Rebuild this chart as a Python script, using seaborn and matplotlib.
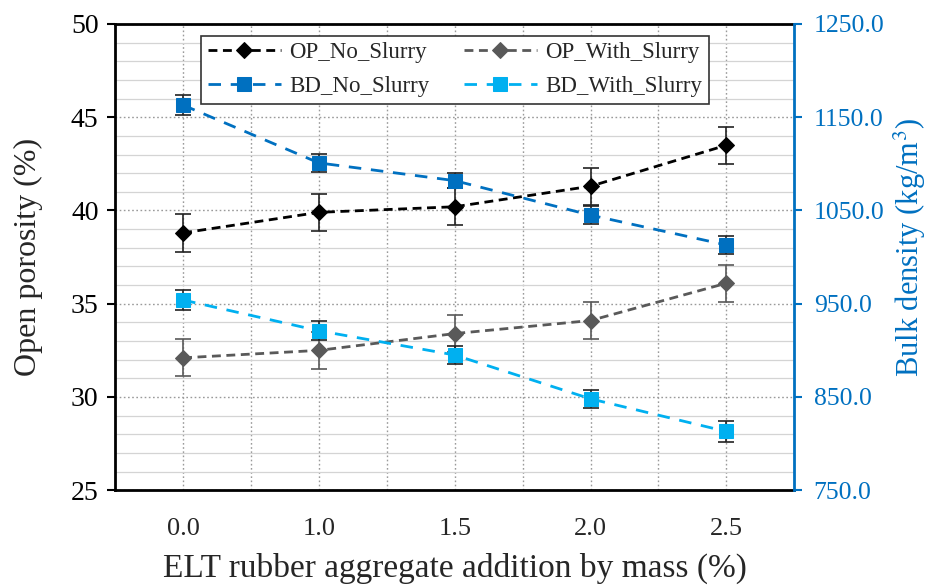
import numpy as np
import pandas as pd
import seaborn as sns
import matplotlib
matplotlib.use("Agg")
import matplotlib.pyplot as plt
from matplotlib.ticker import MultipleLocator, FixedLocator, FormatStrFormatter

# ELT rubber aggregate addition (% by mass)
rubber_labels = ["0.0", "1.0", "1.5", "2.0", "2.5"]

# Open porosity (%)
op_no_slurry = [38.8, 39.9, 40.2, 41.3, 43.5]
op_no_slurry_err = [1.0, 1.0, 1.0, 1.0, 1.0]
op_with_slurry = [32.1, 32.5, 33.4, 34.1, 36.1]
op_with_slurry_err = [1.0, 1.0, 1.0, 1.0, 1.0]

# Bulk density (kg/m3)
bd_no_slurry = [1163.0, 1101.0, 1082.0, 1045.0, 1013.0]
bd_no_slurry_err = [11.0, 10.0, 8.0, 10.0, 10.0]
bd_with_slurry = [954.0, 921.0, 895.0, 848.0, 813.0]
bd_with_slurry_err = [11.0, 10.0, 10.0, 10.0, 11.0]

# Right-hand axis ticks
bd_ticks = [750, 850, 950, 1050, 1150, 1250]

sns.set_theme(style="white")
plt.rcParams["font.family"] = ["Liberation Serif", "DejaVu Serif"]
plt.rcParams["mathtext.fontset"] = "stix"

BLUE = "#0070C0"
LIGHT_BLUE = "#00B0F0"
GRAY = "#595959"

df = pd.DataFrame({
    "pos": np.arange(len(rubber_labels)),
    "op_no": op_no_slurry, "op_no_err": op_no_slurry_err,
    "op_with": op_with_slurry, "op_with_err": op_with_slurry_err,
    "bd_no": bd_no_slurry, "bd_no_err": bd_no_slurry_err,
    "bd_with": bd_with_slurry, "bd_with_err": bd_with_slurry_err,
})

fig = plt.figure(figsize=(9.29, 5.85), dpi=100)
ax = fig.add_axes([0.124, 0.162, 0.731, 0.797])
ax2 = ax.twinx()

# Grid on the primary axes
ax.set_axisbelow(True)
ax.set_xlim(-0.5, 4.5)
ax.set_ylim(25, 50)
ax.yaxis.set_major_locator(MultipleLocator(5))
ax.yaxis.set_minor_locator(MultipleLocator(1))
ax.xaxis.set_major_locator(FixedLocator(df["pos"]))
ax.xaxis.set_minor_locator(FixedLocator(df["pos"][:-1] + 0.5))
ax.grid(which="minor", axis="y", color="#d4d4d4", linestyle="-", linewidth=0.9)
ax.grid(which="major", axis="y", color="#9a9a9a", linestyle=(0, (1.2, 1.8)), linewidth=1.0)
ax.grid(which="both", axis="x", color="#9a9a9a", linestyle=(0, (1.2, 1.8)), linewidth=1.0)

OP_DASH = (0, (3.2, 2.0))
BD_DASH = (0, (4.5, 3.5))


def draw(axis, ycol, ecol, color, marker, ms, label, ecolor, dash):
    axis.errorbar(df["pos"], df[ycol], yerr=df[ecol], fmt="none",
                  ecolor=ecolor, elinewidth=1.2, capsize=6, capthick=1.2, zorder=2)
    sns.lineplot(data=df, x="pos", y=ycol, ax=axis, color=color, marker=marker,
                 markersize=ms, markeredgecolor=color, linewidth=2.0,
                 linestyle=dash, label=label, legend=False, zorder=3)


draw(ax, "op_no", "op_no_err", "black", "D", 8.5, "OP_No_Slurry", "#222222", OP_DASH)
draw(ax, "op_with", "op_with_err", GRAY, "D", 8.5, "OP_With_Slurry", GRAY, OP_DASH)
draw(ax2, "bd_no", "bd_no_err", BLUE, "s", 10, "BD_No_Slurry", "#222222", BD_DASH)
draw(ax2, "bd_with", "bd_with_err", LIGHT_BLUE, "s", 10, "BD_With_Slurry", "#222222", BD_DASH)

ax2.set_ylim(750, 1250)
ax2.yaxis.set_major_locator(FixedLocator(bd_ticks))
ax2.yaxis.set_major_formatter(FormatStrFormatter("%.1f"))

ax.set_xticks(df["pos"])
ax.set_xticklabels(rubber_labels)
ax.tick_params(axis="x", which="both", length=0, pad=20, labelsize=19)
ax.tick_params(axis="y", which="major", length=6, width=1.5, direction="out",
               labelsize=20, colors="black", pad=6, left=True)
ax.tick_params(axis="y", which="minor", length=0)
ax2.tick_params(axis="y", length=6, width=1.5, direction="out", labelsize=18.5,
                colors=BLUE, pad=8, right=True)

for s in ["left", "bottom", "top"]:
    ax.spines[s].set_color("black")
    ax.spines[s].set_linewidth(2.0)
for s in ["left", "bottom", "top"]:
    ax2.spines[s].set_visible(False)
ax.spines["right"].set_visible(False)
ax2.spines["right"].set_color(BLUE)
ax2.spines["right"].set_linewidth(2.0)

ax.set_xlabel("ELT rubber aggregate addition by mass (%)", fontsize=24, va="center")
ax.xaxis.set_label_coords(0.5, -0.168)
ax.set_ylabel("Open porosity (%)", fontsize=23, va="center")
ax.yaxis.set_label_coords(-0.128, 0.5)
ax2.set_ylabel("Bulk density (kg/m$^3$)", fontsize=22, color=BLUE, va="center")
ax2.yaxis.set_label_coords(1.17, 0.52)

h1, l1 = ax.get_legend_handles_labels()
h2, l2 = ax2.get_legend_handles_labels()
handles = [h1[0], h2[0], h1[1], h2[1]]
labels = [l1[0], l2[0], l1[1], l2[1]]
leg = ax2.legend(handles, labels, ncol=2, loc="upper center",
                 bbox_to_anchor=(0.50, 0.985), fontsize=16.5, frameon=True,
                 fancybox=False, edgecolor="#333333", framealpha=1,
                 handlelength=3.2, numpoints=1, columnspacing=1.5,
                 labelspacing=0.55, handletextpad=0.35, borderpad=0.3,
                 borderaxespad=0.2)
leg.get_frame().set_linewidth(1.2)

fig.savefig("out.png", dpi=100)
